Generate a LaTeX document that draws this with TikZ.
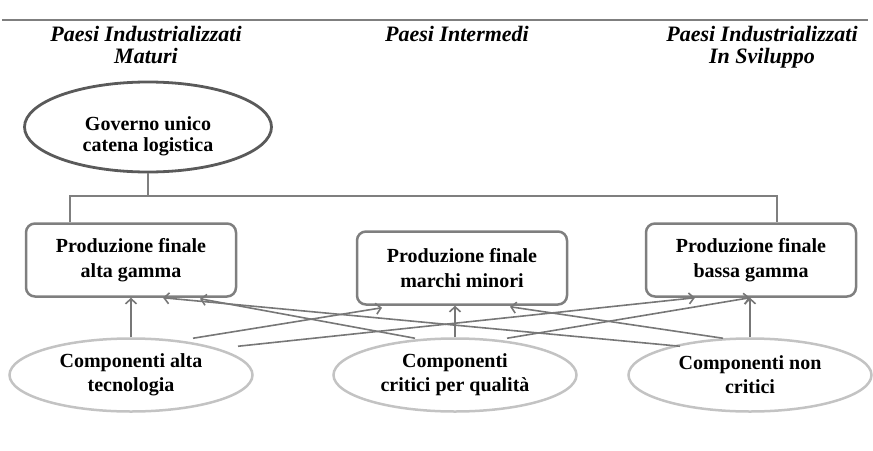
\documentclass[tikz,border=0pt]{standalone}
\usepackage{fontspec}
\setmainfont{Liberation Serif}
\usepackage{tikz}
\usepackage{xcolor}
\usetikzlibrary{arrows.meta, shapes.geometric, positioning, calc}

\definecolor{boxgray}{HTML}{7F7F7F}
\definecolor{govgray}{HTML}{5A5A5A}
\definecolor{compgray}{HTML}{C3C3C3}
\definecolor{arrgray}{HTML}{777777}

\begin{document}
\begin{tikzpicture}[x=1pt, y=-1pt,
        header/.style={align=center, anchor=north, inner sep=0pt, font=\bfseries\itshape\fontsize{22}{22}\selectfont},
        prodbox/.style={draw=boxgray, line width=2.5pt, rounded corners=9pt, minimum width=210pt, minimum height=73pt, align=center, font=\bfseries\fontsize{20}{25}\selectfont},
        compell/.style={ellipse, draw=compgray, line width=2.5pt, minimum width=243pt, minimum height=73pt, inner sep=0pt, align=center, font=\bfseries\fontsize{20}{24}\selectfont},
        flow/.style={arrgray, line width=1.6pt, -{Straight Barb[length=5pt, width=11pt]}},
        tree/.style={boxgray, line width=1.8pt}]
        \useasboundingbox (0,0) rectangle (873,450);

        % Top rule and country headers
        \draw[boxgray, line width=1.6pt] (2,20) -- (868,20);
        \node[header] (maturi) at (146,26) {Paesi Industrializzati\\Maturi};
        \node[header] (intermedi) at (457,26) {Paesi Intermedi};
        \node[header] (sviluppo) at (762,26) {Paesi Industrializzati\\In Sviluppo};

        % Governance
        \node[ellipse, draw=govgray, line width=2.8pt, minimum width=247pt, minimum height=90pt, inner sep=0pt, align=center, font=\bfseries\fontsize{20}{21}\selectfont] (gov) at (148,127) {\rule{0pt}{32pt}Governo unico\\catena logistica};

        % Final production
        \node[prodbox] (falta) at (131,260) {Produzione finale\\alta gamma};
        \node[prodbox] (fmarchi) at (462,268) {Produzione finale\\marchi minori};
        \node[prodbox] (fbassa) at (751,260) {Produzione finale\\bassa gamma};

        % Components
        \node[compell] (calta) at (131,375) {Componenti alta\\tecnologia};
        \node[compell] (ccritici) at (455,375) {Componenti\\critici per qualità};
        \node[compell] (cnon) at (750,375) {Componenti non\\critici};

        % Tree
        \coordinate (busL) at (70,196);
        \coordinate (busR) at (777,196);
        \draw[tree] (gov.south) -- (gov.south |- busL);
        \draw[tree] (busL |- falta.north) -- (busL) -- (busR) -- (busR |- fbassa.north);

        % Supply flows
        \foreach \c/\f in {calta/falta, ccritici/fmarchi, cnon/fbassa} {
            \draw[flow] (\c.north) -- (\c.north |- \f.south);
        }
        \draw[flow] ($(calta.north)+(62,1)$) -- ($(fmarchi.south)+(-80,2)$);
        \draw[flow] ($(calta.north)+(107,9)$) -- ($(fbassa.south)+(-56,0)$);
        \draw[flow] ($(ccritici.north)+(52,1)$) -- ($(fbassa.south)+(-1,0)$);
        \draw[flow] ($(ccritici.north)+(-40,1)$) -- ($(falta.south)+(69,1)$);
        \draw[flow] ($(cnon.north)+(-27,1)$) -- ($(fmarchi.south)+(48,1)$);
        \draw[flow] ($(cnon.north)+(-70,9)$) -- ($(falta.south)+(32,0)$);
    \end{tikzpicture}
\end{document}
